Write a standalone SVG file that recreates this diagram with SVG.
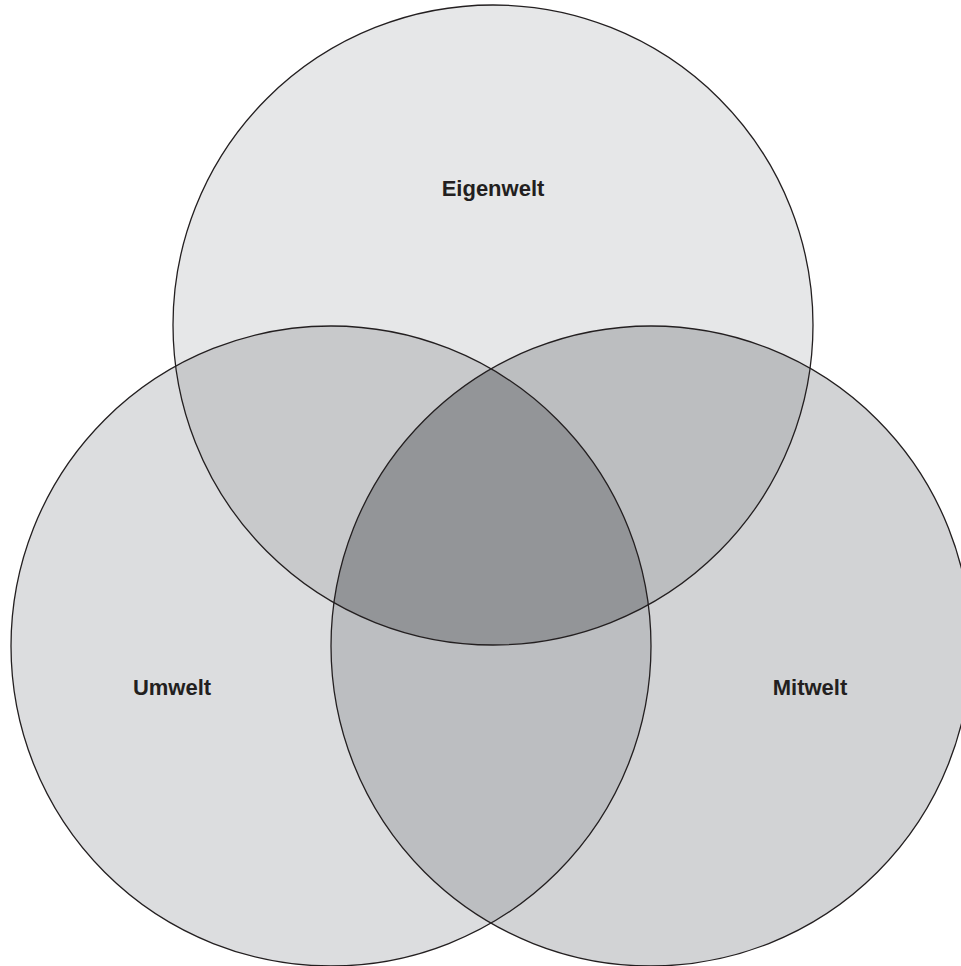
<svg xmlns="http://www.w3.org/2000/svg" width="961" height="966" viewBox="0 0 961 966">
<style>
.lbl{font-family:"Liberation Sans",Arial,sans-serif;font-weight:bold;font-size:22px;fill:#231f20;text-anchor:middle}
.ring{fill:none;stroke:#231f20;stroke-width:1.3}
</style>
<defs>
<clipPath id="cTop"><circle cx="493" cy="325" r="320"/></clipPath>
<clipPath id="cLeft"><circle cx="331" cy="646" r="320"/></clipPath>
<clipPath id="cRight"><circle cx="651" cy="646" r="320"/></clipPath>
</defs>
<rect width="961" height="966" fill="#ffffff"/>
<g id="fills">
<circle cx="493" cy="325" r="320" fill="#e6e7e8"/>
<circle cx="331" cy="646" r="320" fill="#dcdddf"/>
<circle cx="651" cy="646" r="320" fill="#d2d3d5"/>
<g clip-path="url(#cTop)"><circle cx="331" cy="646" r="320" fill="#c8c9cb"/></g>
<g clip-path="url(#cTop)"><circle cx="651" cy="646" r="320" fill="#bcbec0"/></g>
<g clip-path="url(#cLeft)"><circle cx="651" cy="646" r="320" fill="#bcbec1"/></g>
<g clip-path="url(#cLeft)"><g clip-path="url(#cRight)"><circle cx="493" cy="325" r="320" fill="#939598"/></g></g>
</g>
<g id="eigenwelt">
<circle class="ring" cx="493" cy="325" r="320"/>
<text class="lbl" x="493" y="196">Eigenwelt</text>
</g>
<g id="umwelt">
<circle class="ring" cx="331" cy="646" r="320"/>
<text class="lbl" x="172" y="695">Umwelt</text>
</g>
<g id="mitwelt">
<circle class="ring" cx="651" cy="646" r="320"/>
<text class="lbl" x="810" y="695">Mitwelt</text>
</g>
<g id="connectors"/>
</svg>
